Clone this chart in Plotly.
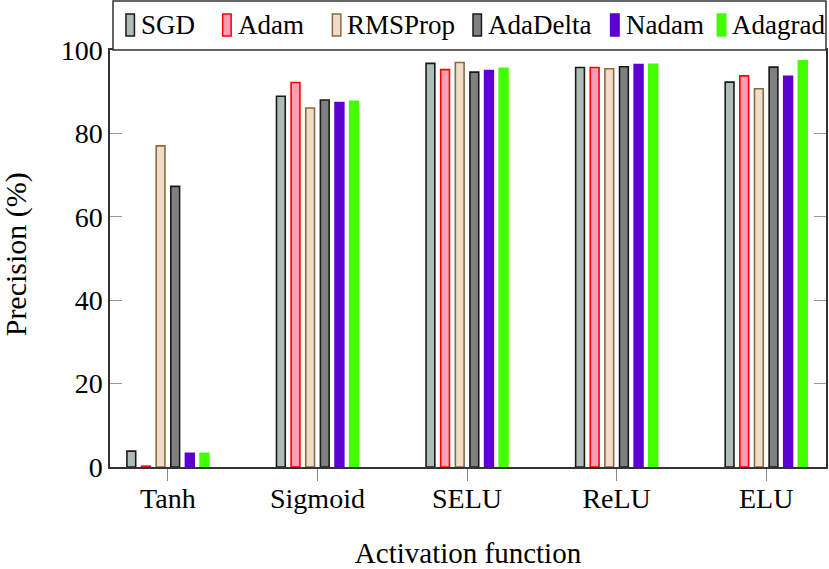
import plotly.graph_objects as go

categories = ["Tanh", "Sigmoid", "SELU", "ReLU", "ELU"]
optimizers = ["SGD", "Adam", "RMSProp", "AdaDelta", "Nadam", "Adagrad"]

sgd      = [3.8, 88.9, 96.8, 95.8, 92.3]
adam     = [0.2, 92.2, 95.3, 95.8, 93.8]
rmsprop  = [77.0, 86.1, 97.0, 95.5, 90.7]
adadelta = [67.3, 88.0, 94.7, 96.0, 95.9]
nadam    = [3.3, 87.4, 95.1, 96.5, 93.7]
adagrad  = [3.3, 87.7, 95.6, 96.6, 97.4]

series = [sgd, adam, rmsprop, adadelta, nadam, adagrad]
fills = ["#aebcb8", "#ff9db6", "#f0dcc8", "#808080", "#5e00cf", "#44ff00"]
lines = ["#1a1a1a", "#ff0000", "#8b6a3e", "#1a1a1a", "#5e00cf", "#44ff00"]

FONT = "Liberation Serif"
W, H = 829, 569
L, R, T, B = 110, 1, 50, 102
PW, PH = W - L - R, H - T - B

fig = go.Figure()
for name, vals, fc, lc in zip(optimizers, series, fills, lines):
    fig.add_trace(go.Bar(
        x=list(range(len(categories))), y=vals, name=name,
        marker=dict(color=fc, line=dict(color=lc, width=1.6)),
        showlegend=False,
    ))

# custom legend box above the plot
def px2paper_x(px):
    return (px - L) / PW

def px2paper_y(py):
    return (H - B - py) / PH

shapes = [dict(type="rect", xref="paper", yref="paper",
               x0=px2paper_x(113), x1=px2paper_x(828),
               y0=px2paper_y(50), y1=px2paper_y(1),
               line=dict(color="#333333", width=1.5), fillcolor="white", layer="above")]
annotations = []
sym_x = [126, 223, 333, 474, 612, 719]
for i, (name, fc, lc) in enumerate(zip(optimizers, fills, lines)):
    sx = sym_x[i]
    shapes.append(dict(type="rect", xref="paper", yref="paper",
                       x0=px2paper_x(sx), x1=px2paper_x(sx + 8.5),
                       y0=px2paper_y(36), y1=px2paper_y(14),
                       line=dict(color=lc, width=1.5), fillcolor=fc, layer="above"))
    annotations.append(dict(xref="paper", yref="paper", x=px2paper_x(sx + 13),
                            y=px2paper_y(25), text=name, showarrow=False,
                            xanchor="left", yanchor="middle",
                            font=dict(family=FONT, size=27, color="black")))

# y-axis title as a rotated annotation
annotations.append(dict(xref="paper", yref="paper", x=px2paper_x(0), y=px2paper_y(254),
                        text="Precision (%)", textangle=-90, showarrow=False,
                        xanchor="left", yanchor="middle", xshift=-3,
                        font=dict(family=FONT, size=30, color="black")))

fig.update_layout(
    width=W, height=H,
    margin=dict(l=L, r=R, t=T, b=B),
    paper_bgcolor="white", plot_bgcolor="white",
    barmode="group", bargap=0.413, bargroupgap=0.4,
    font=dict(family=FONT, size=28, color="black"),
    shapes=shapes, annotations=annotations,
)
fig.update_xaxes(
    tickmode="array", tickvals=list(range(len(categories))), ticktext=categories,
    range=[-0.387, 4.4], showgrid=False, zeroline=False,
    showline=True, linecolor="#333333", linewidth=1.5, mirror=True,
    ticks="outside", ticklen=12, tickcolor="#888888", tickwidth=1,
    ticklabelstandoff=-6,
    tickfont=dict(family=FONT, size=28),
    title=dict(text="Activation function", font=dict(family=FONT, size=29), standoff=30),
)
fig.update_yaxes(
    range=[0, 100], tickvals=[0, 20, 40, 60, 80, 100], showgrid=False, zeroline=False,
    showline=True, linecolor="#333333", linewidth=1.5, mirror="ticks",
    ticks="inside", ticklen=12, tickcolor="#999999", tickwidth=1,
    tickfont=dict(family=FONT, size=28),
)

fig.write_html("out.html", config={"displayModeBar": False},
               post_script="document.body.style.margin='0';document.body.style.overflow='hidden';")
